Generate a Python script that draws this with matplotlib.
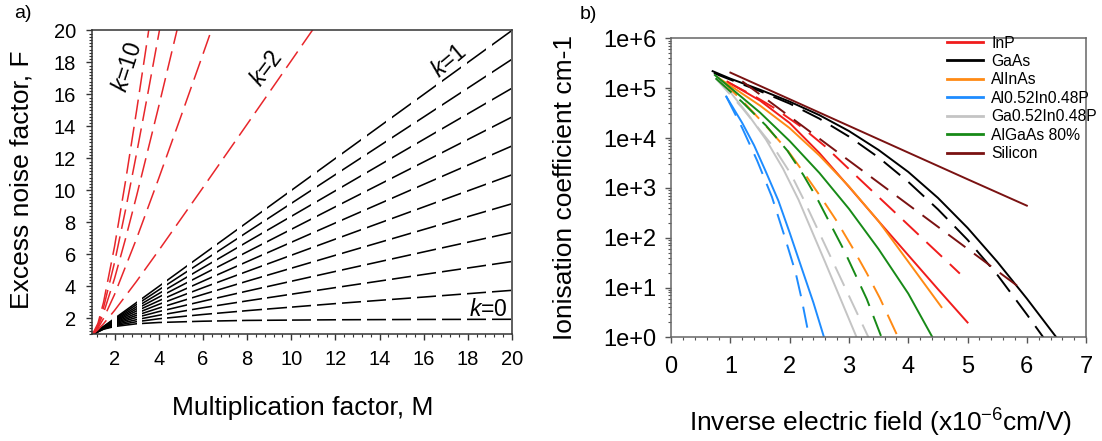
import numpy as np
import matplotlib
matplotlib.use('Agg')
import matplotlib.pyplot as plt
from matplotlib.path import Path
from matplotlib.lines import Line2D
from matplotlib.ticker import MultipleLocator, LogLocator, FuncFormatter, NullFormatter

plt.rcParams['font.family'] = 'Liberation Sans'
plt.rcParams['mathtext.fontset'] = 'custom'
plt.rcParams['mathtext.rm'] = 'Liberation Sans'
plt.rcParams['mathtext.it'] = 'Liberation Sans:italic'

# ---- a) excess noise factor vs multiplication ----
M_black = [1, 1.5, 2, 3, 4, 6, 8, 12, 16, 20]
k_black = [0, 0.1, 0.2, 0.3, 0.4, 0.5, 0.6, 0.7, 0.8, 0.9, 1.0]
F_black = [
    [1.0, 1.33, 1.50, 1.67, 1.75, 1.83, 1.88, 1.92, 1.94, 1.95],
    [1.0, 1.35, 1.55, 1.80, 1.98, 2.25, 2.49, 2.93, 3.34, 3.76],
    [1.0, 1.37, 1.60, 1.93, 2.20, 2.67, 3.10, 3.93, 4.75, 5.56],
    [1.0, 1.38, 1.65, 2.07, 2.43, 3.08, 3.71, 4.94, 6.16, 7.37],
    [1.0, 1.40, 1.70, 2.20, 2.65, 3.50, 4.33, 5.95, 7.56, 9.17],
    [1.0, 1.42, 1.75, 2.33, 2.88, 3.92, 4.94, 6.96, 8.97, 10.98],
    [1.0, 1.43, 1.80, 2.47, 3.10, 4.33, 5.55, 7.97, 10.38, 12.78],
    [1.0, 1.45, 1.85, 2.60, 3.33, 4.75, 6.16, 8.98, 11.78, 14.59],
    [1.0, 1.47, 1.90, 2.73, 3.55, 5.17, 6.78, 9.98, 13.19, 16.39],
    [1.0, 1.48, 1.95, 2.87, 3.78, 5.58, 7.39, 10.99, 14.59, 18.20],
    [1.0, 1.50, 2.00, 3.00, 4.00, 6.00, 8.00, 12.00, 16.00, 20.00],
]

k_red = [2, 4, 6, 8, 10]
M_red = [
    [1, 1.25, 1.5, 2, 3, 4, 6, 8, 10, 11],
    [1, 1.25, 1.5, 2, 3, 4, 5, 6, 6.5],
    [1, 1.25, 1.5, 2, 2.5, 3, 4, 5],
    [1, 1.25, 1.5, 2, 2.5, 3, 3.5, 4, 4.5],
    [1, 1.25, 1.5, 2, 2.5, 3, 3.5, 4],
]
F_red = [
    [1, 1.30, 1.67, 2.50, 4.33, 6.25, 10.17, 14.13, 18.10, 20.09],
    [1, 1.40, 2.00, 3.50, 7.00, 10.75, 14.60, 18.50, 20.46],
    [1, 1.50, 2.33, 4.50, 7.00, 9.67, 15.25, 21.00],
    [1, 1.60, 2.67, 5.50, 8.80, 12.33, 16.00, 19.75, 23.56],
    [1, 1.70, 3.00, 6.50, 10.60, 15.00, 19.57, 24.25],
]

# ---- b) ionisation coefficients (solid = alpha, dashed = beta) ----
materials = ['InP', 'GaAs', 'AlInAs', 'Al0.52In0.48P', 'Ga0.52In0.48P', 'AlGaAs 80%', 'Silicon']
colors = ['#f01c1c', '#000000', '#ff8a14', '#1e8cff', '#c4c4c4', '#178a17', '#7a1212']

x_alpha = [
    [0.95, 1.5, 2.0, 2.5, 3.0, 3.5, 4.0, 4.5, 5.0],
    [0.7, 1.0, 1.5, 2.0, 2.5, 3.0, 3.5, 4.0, 4.5, 5.0, 5.5, 6.0, 6.5],
    [0.78, 1.0, 1.5, 2.0, 2.5, 3.0, 3.5, 4.0, 4.56],
    [0.93, 1.2, 1.4, 1.585, 1.81, 2.0, 2.2, 2.4, 2.58],
    [0.77, 1.0, 1.3, 1.6, 1.89, 2.15, 2.6, 3.13],
    [0.74, 1.0, 1.5, 2.0, 2.5, 3.0, 3.5, 4.0, 4.41],
    [1.0, 2.0, 3.0, 4.0, 5.0, 6.0],
]
alpha = [
    [1.35e5, 5.62e4, 2.0e4, 5.01e3, 1.05e3, 214, 44.7, 9.33, 2.0],
    [2.19e5, 1.55e5, 9.3e4, 5.37e4, 2.88e4, 1.38e4, 5.75e3, 2.09e3, 631, 158, 33.1, 6.03, 1.0],
    [1.66e5, 1.12e5, 4.47e4, 1.58e4, 4.47e3, 1.07e3, 214, 33.1, 4.07],
    [6.8e4, 2.0e4, 7.1e3, 2.29e3, 550, 126, 25, 5.0, 1.0],
    [1.7e5, 8.3e4, 2.95e4, 9.3e3, 2.4e3, 575, 32, 1.0],
    [1.82e5, 1.02e5, 3.24e4, 8.7e3, 2.0e3, 380, 59, 7.6, 1.0],
    [2.05e5, 6.0e4, 1.75e4, 5.1e3, 1.49e3, 440],
]

x_beta = [
    [0.95, 1.39, 1.73, 2.2, 2.6, 3.06, 3.47, 3.89, 4.31, 4.73, 4.87],
    [0.72, 1.0, 1.5, 2.0, 2.5, 3.0, 3.5, 4.0, 4.5, 5.0, 5.5, 6.0, 6.28],
    [0.85, 1.2, 1.585, 1.96, 2.27, 2.54, 2.79, 3.05, 3.3, 3.52, 3.83],
    [0.93, 1.2, 1.45, 1.7, 1.9, 2.1, 2.2, 2.33],
    [0.75, 1.2, 1.73, 2.02, 2.23, 2.74, 3.33],
    [0.75, 1.2, 1.6, 1.96, 2.23, 2.47, 2.92, 3.3, 3.55],
    [1.2, 2.0, 3.0, 4.0, 5.0, 5.9],
]
beta = [
    [1.32e5, 7.08e4, 4.07e4, 1.66e4, 6.76e3, 2.04e3, 708, 240, 81, 27.5, 19.1],
    [2.0e5, 1.48e5, 8.7e4, 4.9e4, 2.45e4, 1.07e4, 4.07e3, 1.32e3, 372, 91, 18.2, 2.9, 1.0],
    [1.41e5, 5.6e4, 1.82e4, 5.75e3, 1.78e3, 617, 219, 66, 19.5, 6.2, 1.0],
    [6.8e4, 1.58e4, 3.55e3, 661, 120, 20, 6.0, 1.0],
    [1.58e5, 4.0e4, 6.5e3, 1.9e3, 603, 31, 1.0],
    [1.58e5, 5.25e4, 1.78e4, 5.6e3, 1.82e3, 589, 55, 5.9, 1.0],
    [1.37e5, 2.7e4, 3.52e3, 460, 60, 9.6],
]

fig = plt.figure(figsize=(11.02, 4.41), dpi=100)

# ------------------------------------------------------------------ a)
ax1 = fig.add_axes([0.0839, 0.2415, 0.3807, 0.6895])

# black curves are dashed in M: fixed columns shared by every k
period, dash = 1.13, 0.88
rects = [Path([(a, 0), (a + dash, 0), (a + dash, 30), (a, 30), (a, 0)], closed=True)
         for a in np.arange(1.0, 20.5, period)]
dash_clip = Path.make_compound_path(*rects)

for k, F in zip(k_black, F_black):
    ln, = ax1.plot(M_black, F, color='black', lw=1.15, solid_capstyle='butt')
    ln.set_clip_path(dash_clip, ax1.transData)

for k, M, F in zip(k_red, M_red, F_red):
    ax1.plot(M, F, color='#e8262b', lw=1.1, dashes=(13, 5))

ax1.set_xlim(1, 20)
ax1.set_ylim(1, 20)
ax1.set_xticks([2, 4, 6, 8, 10, 12, 14, 16, 18, 20])
ax1.set_yticks([2, 4, 6, 8, 10, 12, 14, 16, 18, 20])
ax1.xaxis.set_minor_locator(MultipleLocator(0.4))
ax1.yaxis.set_minor_locator(MultipleLocator(0.2))
ax1.tick_params(which='both', direction='out', top=False, right=False,
                labelsize=14.5, color='#333333')
ax1.tick_params(axis='x', pad=7.5)
ax1.tick_params(axis='y', pad=8)
ax1.tick_params(which='major', length=4, width=1)
ax1.tick_params(which='minor', length=2.2, width=0.8)
for s in ax1.spines.values():
    s.set_color('#333333')
    s.set_linewidth(1.1)

ax1.set_xlabel('Multiplication factor, M', fontsize=19, va='center')
ax1.xaxis.set_label_coords(0.5, -0.242)
ax1.set_ylabel('Excess noise factor, F', fontsize=19, va='center')
ax1.yaxis.set_label_coords(-0.168, 0.508)

lab = dict(fontsize=16.5, ha='center', va='center', rotation_mode='anchor')
ax1.text(2.6, 17.7, r'$\it{k}$=10', rotation=72, **lab)
ax1.text(8.9, 17.6, r'$\it{k}$=2', rotation=53, **lab)
ax1.text(17.14, 18.1, r'$\it{k}$=1', rotation=40, **lab)
ax1.text(18.95, 2.55, r'$\it{k}$=0', rotation=0, **lab)

fig.text(23 / 1102, 1 - 14 / 441, 'a)', fontsize=14, ha='center', va='center')

# ------------------------------------------------------------------ b)
ax2 = fig.add_axes([0.609, 0.2347, 0.3766, 0.6785])
ax2.set_yscale('log')

for i, name in enumerate(materials):
    ax2.plot(x_alpha[i], alpha[i], color=colors[i], lw=1.4)
    ax2.plot(x_beta[i], beta[i], color=colors[i], lw=1.4, dashes=(11, 5.5))

ax2.set_xlim(0, 7)
ax2.set_ylim(1, 1e6)
ax2.xaxis.set_major_locator(MultipleLocator(1))
ax2.xaxis.set_minor_locator(MultipleLocator(0.2))
ax2.yaxis.set_major_locator(LogLocator(base=10, numticks=10))
ax2.yaxis.set_minor_locator(LogLocator(base=10, subs=np.arange(2, 10), numticks=10))
ax2.yaxis.set_minor_formatter(NullFormatter())
ax2.yaxis.set_major_formatter(FuncFormatter(lambda v, p: '1e+%d' % round(np.log10(v))))
ax2.tick_params(which='both', direction='out', top=False, right=False,
                labelsize=17, color='#555555')
ax2.tick_params(axis='x', pad=9)
ax2.tick_params(axis='y', pad=6.5)
ax2.tick_params(which='major', length=4, width=1)
ax2.tick_params(which='minor', length=2.2, width=0.8)
for s in ax2.spines.values():
    s.set_color('#666666')
    s.set_linewidth(1.1)

ax2.set_xlabel(r'Inverse electric field (x10$^{\mathregular{-6}}$cm/V)', fontsize=19, va='center')
ax2.xaxis.set_label_coords(0.504, -0.286)
ax2.set_ylabel('Ionisation coefficient cm-1', fontsize=19, va='center')
ax2.yaxis.set_label_coords(-0.255, 0.5)

handles = [Line2D([], [], color=c, lw=2) for c in colors]
fig.legend(handles, materials, loc='upper left',
           bbox_to_anchor=(946.7 / 1102, 1 - 35.5 / 441), bbox_transform=fig.transFigure,
           frameon=False, fontsize=11.3, borderpad=0, borderaxespad=0,
           handlelength=2.3, handletextpad=0.55, labelspacing=0.22)

fig.text(588 / 1102, 1 - 14.5 / 441, 'b)', fontsize=14, ha='center', va='center')

fig.savefig('out.png', dpi=100)
